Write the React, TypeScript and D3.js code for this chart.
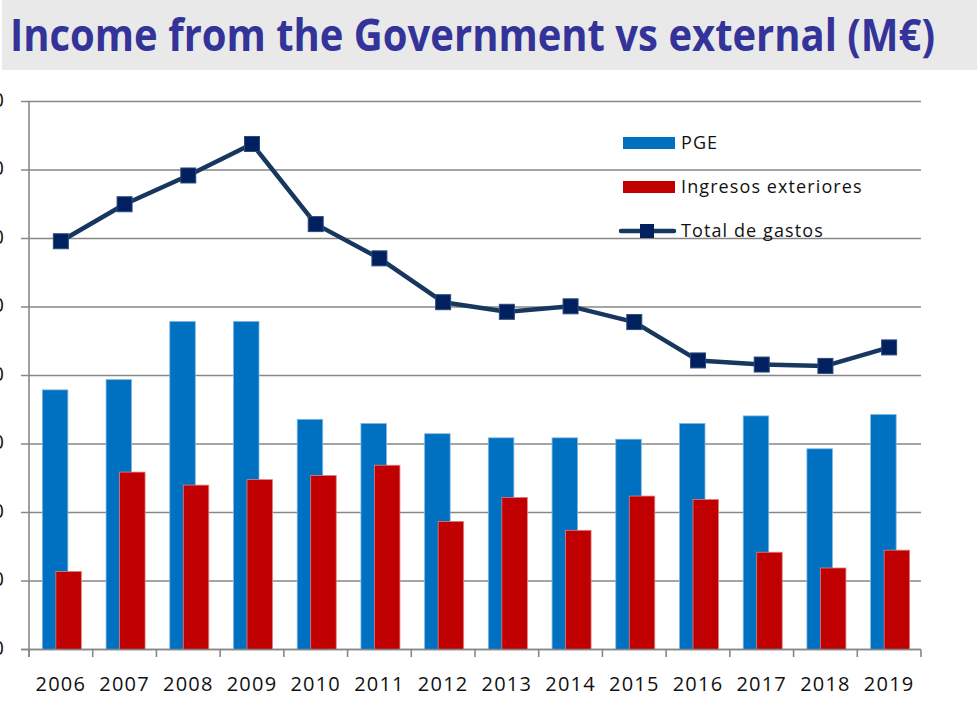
import { useMemo } from 'react'
import * as d3 from 'd3'

const years = ['2006', '2007', '2008', '2009', '2010', '2011', '2012', '2013', '2014', '2015', '2016', '2017', '2018', '2019']
const pge = [379, 394, 479, 479, 336, 330, 315, 309, 309, 307, 330, 341, 293, 343]
const ingresosExteriores = [114, 259, 240, 248, 254, 269, 187, 222, 174, 224, 219, 142, 119, 145]
const totalGastos = [596, 650, 692, 738, 621, 571, 507, 493, 501, 478, 422, 416, 414, 441]
const yTicks = [0, 100, 200, 300, 400, 500, 600, 700, 800]

const legendItems = [
  { key: 'pge', label: 'PGE', color: '#0070C0' },
  { key: 'ing', label: 'Ingresos exteriores', color: '#C00000' },
  { key: 'tot', label: 'Total de gastos', color: '#17375E' },
]

const W = 977
const H = 706
const FONT = '"Open Sans", "Liberation Sans", sans-serif'

export default function App() {
  const x = useMemo(() => d3.scaleBand<string>().domain(years).range([29, 921]).padding(0), [])
  const y = useMemo(() => d3.scaleLinear().domain([0, 800]).range([649.5, 101.5]), [])
  const bw = x.bandwidth()
  const cx = (yr: string) => (x(yr) ?? 0) + bw / 2

  const linePath = d3
    .line<number>()
    .x((_, i) => cx(years[i]))
    .y((d) => y(d))(totalGastos)

  const gridColor = '#878787'

  return (
    <svg
      width={W}
      height={H}
      viewBox={`0 0 ${W} ${H}`}
      style={{ position: 'absolute', left: 0, top: 0, background: '#fff' }}
    >
      {/* title band */}
      <rect x={2} y={0} width={W - 2} height={70} fill="#e9e9e9" />
      <text
        x={10}
        y={51}
        fontFamily={FONT}
        fontWeight={700}
        fontSize={45}
        fill="#333399"
        textLength={925}
        lengthAdjust="spacingAndGlyphs"
      >
        Income from the Government vs external (M€)
      </text>

      {/* grid + y ticks */}
      {yTicks.map((t) => (
        <g key={t}>
          <line x1={21} x2={921} y1={y(t)} y2={y(t)} stroke={gridColor} strokeWidth={1.6} />
          <text
            x={4}
            y={y(t)}
            textAnchor="end"
            dominantBaseline="middle"
            fontFamily={FONT}
            fontSize={20}
            fill="#111"
          >
            {t}
          </text>
        </g>
      ))}

      {/* bars */}
      {years.map((yr, i) => {
        const c = cx(yr)
        return (
          <g key={yr}>
            <rect
              x={c - 18.5}
              y={y(pge[i])}
              width={25.5}
              height={y(0) - y(pge[i])}
              fill="#0070C0"
              stroke="#7fb6e3"
              strokeWidth={0.8}
            />
            <rect
              x={c - 5}
              y={y(ingresosExteriores[i])}
              width={25.5}
              height={y(0) - y(ingresosExteriores[i])}
              fill="#C00000"
              stroke="#e07f7f"
              strokeWidth={0.8}
            />
          </g>
        )
      })}

      {/* axes */}
      <line x1={29} x2={29} y1={101.5} y2={657} stroke={gridColor} strokeWidth={1.6} />
      <line x1={21} x2={921} y1={y(0)} y2={y(0)} stroke={gridColor} strokeWidth={1.6} />
      {[...years.map((yr) => x(yr) ?? 0), 921].map((tx, i) => (
        <line key={i} x1={tx} x2={tx} y1={y(0)} y2={657} stroke={gridColor} strokeWidth={1.6} />
      ))}
      {years.map((yr) => (
        <text
          key={yr}
          x={cx(yr)}
          y={691}
          textAnchor="middle"
          fontFamily={FONT}
          fontSize={20}
          letterSpacing={1.2}
          fill="#111"
        >
          {yr}
        </text>
      ))}

      {/* total line */}
      <path d={linePath ?? ''} fill="none" stroke="#17375E" strokeWidth={4.5} strokeLinejoin="round" />
      {totalGastos.map((v, i) => (
        <rect
          key={i}
          x={cx(years[i]) - 7.5}
          y={y(v) - 7.5}
          width={15}
          height={15}
          fill="#002060"
          stroke="#2b4a7a"
          strokeWidth={1}
        />
      ))}

      {/* legend */}
      {legendItems.map((it, i) => {
        const ly = 143 + i * 44
        return (
          <g key={it.key}>
            {it.key === 'tot' ? (
              <g>
                <line x1={621} x2={674} y1={ly} y2={ly} stroke={it.color} strokeWidth={4.5} strokeLinecap="round" />
                <rect x={640} y={ly - 7} width={14} height={14} fill="#002060" />
              </g>
            ) : (
              <rect x={623} y={ly - 6} width={52} height={12} fill={it.color} />
            )}
            <text
              x={681}
              y={ly + 6}
              fontFamily={FONT}
              fontSize={18}
              letterSpacing={1.1}
              fill="#111"
            >
              {it.label}
            </text>
          </g>
        )
      })}
    </svg>
  )
}
